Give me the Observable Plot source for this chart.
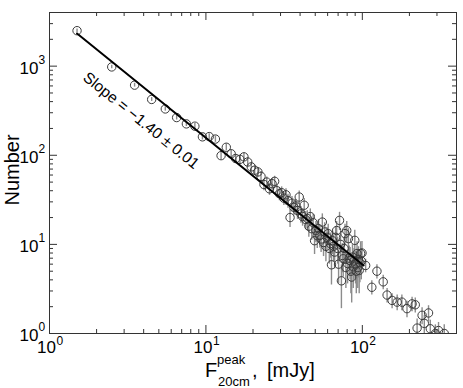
<!DOCTYPE html>
<html><head><meta charset="utf-8">
<script src="https://cdn.jsdelivr.net/npm/d3@7"></script>
<script src="https://cdn.jsdelivr.net/npm/@observablehq/plot@0.6"></script>
<style>html,body{margin:0;padding:0;background:#fff}#chart svg{display:block}</style>
</head><body><div id="chart"></div>
<script>
// Bin centres of the 20 cm peak flux (mJy)
const flux = [1.5,2.5,3.5,4.5,5.5,6.5,7.5,8.5,9.5,10.5,11.5,12.5,13.5,14.5,15.5,16.5,17.5,18.5,19.5,20.5,
  21.5,22.5,23.5,24.5,25.5,26.5,27.5,28.5,29.5,30.5,31.5,32.5,33.5,34.5,35.5,36.5,37.5,38.5,39.5,40.5,
  41.5,42.5,43.5,44.5,45.5,46.5,47.5,48.5,49.5,50.5,51.5,52.5,53.5,54.5,55.5,56.5,57.5,58.5,59.5,60.5,
  61.5,62.5,63.5,64.5,65.5,66.5,67.5,68.5,69.5,70.5,71.5,72.5,73.5,74.5,75.5,76.5,77.5,78.5,79.5,80.5,
  81.5,82.5,83.5,84.5,85.5,86.5,87.5,88.5,89.5,90.5,91.5,92.5,93.5,94.5,95.5,96.5,97.5,98.5,99.5,
  105,115,124,136,144,155,167,179,193,208,218,224,241,249,265,272,293,307,334];
// Number of sources per bin
const number = [2500,980,612,423,331,265,225,212,161,162,152,99,123,104,92,90,96,84,74,68,
  65,58,47,50,42,48,51,40,37,38,33,36,31,20,29,26,27,24,34,22,
  20.5,27.5,19,19.5,16,20.5,15,17.5,11,14.3,12.5,15,12.6,11.5,17.8,10.5,13.8,9.5,12,13.2,
  9,10.2,5.9,11,9.5,8.2,12,14.3,9,6,18.6,10,3.9,7.5,6.9,9,13.2,5.5,14.3,6.1,
  11.6,7,6.6,5,4.3,7.2,5.6,6.5,11.1,6,5,7.9,5.5,6.8,5.1,6.2,7.9,6.5,8,
  5.8,3.3,5.0,3.8,2.7,2.35,2.25,2.25,1.9,2.15,2.1,1.15,1.6,1.3,1.7,1.13,1.0,1.08,1.0];
// Uncertainty on each count
const numberErr = [120,45,30,21,18,16.3,15,14.6,12.7,12.7,12.3,9.9,11.1,10.2,9.6,9.5,9.8,9.2,8.6,8.2,
  8.1,7.6,6.9,7.1,6.5,6.9,7.1,6.3,6.1,6.2,5.7,6,5.6,4.5,5.4,5.1,5.2,4.9,5.8,4.7,
  4.5,5.2,4.4,4.4,4,4.5,3.9,4.2,3.3,3.8,3.5,3.9,3.5,3.4,4.2,3.2,3.7,3.1,3.5,3.6,
  3,3.2,2.4,3.3,3.1,2.9,3.5,3.8,3,2.4,4.3,3.2,2,2.7,2.6,3,3.6,2.3,3.8,2.5,
  3.4,2.6,2.6,2.2,2.1,2.7,2.4,2.5,3.3,2.4,2.2,2.8,2.3,2.6,2.3,2.5,2.8,2.5,2.8,
  1.0,0.6,0.9,0.7,0.5,0.45,0.45,0.45,0.4,0.4,0.4,0.3,0.35,0.3,0.35,0.28,0.25,0.25,0.25];
// Power-law fit end points
const fitFlux = [1.5, 102];
const fitNumber = [2330, 5.8];
const slopeText = "Slope = \u22121.40 \u00b1 0.01";
const slopeAt = {x: 3.85, y: 245};
// Ticks
const xMajor = [1, 10, 100];
const xMinor = [2,3,4,5,6,7,8,9,20,30,40,50,60,70,80,90,200,300];
const yMajor = [1, 10, 100, 1000];
const yMinor = [2,3,4,5,6,7,8,9,20,30,40,50,60,70,80,90,200,300,400,500,600,700,800,900,2000,3000];

const W = 463, H = 388, mL = 49, mR = 7, mT = 12, mB = 55;
const fH = H - mT - mB, fW = W - mL - mR;
const axisColor = "#333";
const FONT = "'Liberation Sans', Arial, Helvetica, sans-serif";

const points = flux.map((x, i) => ({x, y: number[i], lo: Math.max(number[i] - numberErr[i], 0.5), hi: number[i] + numberErr[i]}));
const fit = fitFlux.map((x, i) => ({x, y: fitNumber[i]}));

const tickMarks = (vals, len) => [
  Plot.ruleX(vals, {x: d => d, insetTop: fH - len, stroke: axisColor}),
  Plot.ruleX(vals, {x: d => d, insetBottom: fH - len, stroke: axisColor}),
  Plot.ruleY(vals, {y: d => d, insetRight: fW - len, stroke: axisColor}),
  Plot.ruleY(vals, {y: d => d, insetLeft: fW - len, stroke: axisColor})
];

const chart = Plot.plot({
  width: W, height: H,
  marginLeft: mL, marginRight: mR, marginTop: mT, marginBottom: mB,
  style: {fontFamily: FONT, background: "white", color: "black", overflow: "visible"},
  x: {type: "log", domain: [1, 400], axis: null},
  y: {type: "log", domain: [1, 4000], axis: null},
  marks: [
    Plot.ruleX(points, {x: "x", y1: "lo", y2: "hi", stroke: "#8c8c8c", strokeWidth: 1.4, clip: true}),
    Plot.dot(points, {x: "x", y: "y", r: 4.2, stroke: "#3a3a3a", strokeWidth: 1, fill: "none", clip: true}),
    Plot.line(fit, {x: "x", y: "y", stroke: "black", strokeWidth: 2}),
    Plot.text([slopeText], {x: slopeAt.x, y: slopeAt.y, text: d => d, rotate: 39, fontSize: 15.5, textAnchor: "middle", fill: "black"}),
    ...tickMarks(xMajor.filter(d => d > 1), 8).slice(0, 2),
    ...tickMarks(yMajor.filter(d => d > 1), 8).slice(2, 4),
    ...tickMarks(xMinor, 4).slice(0, 2),
    ...tickMarks(yMinor, 4).slice(2, 4),
    Plot.frame({stroke: axisColor, strokeWidth: 1}),
    // x tick labels
    Plot.text(xMajor, {x: d => d, frameAnchor: "bottom", text: () => "10", dx: -3, dy: 19, fontSize: 17, textAnchor: "middle"}),
    Plot.text(xMajor, {x: d => d, frameAnchor: "bottom", text: d => String(Math.round(Math.log10(d))), dx: 7, dy: 11, fontSize: 12, textAnchor: "start"}),
    // y tick labels
    Plot.text(yMajor, {y: d => d, frameAnchor: "left", text: () => "10", dx: -11, dy: 2, fontSize: 17, textAnchor: "end"}),
    Plot.text(yMajor, {y: d => d, frameAnchor: "left", text: d => String(Math.round(Math.log10(d))), dx: -11, dy: -6, fontSize: 12, textAnchor: "start"})
  ]
});

const svg = d3.select(chart);
// x-axis title: F^peak_20cm, [mJy]
const xt = svg.append("text").attr("font-family", FONT).attr("fill", "black").attr("text-anchor", "start");
xt.append("tspan").attr("x", 205).attr("y", 377).attr("font-size", 20).text("F");
xt.append("tspan").attr("x", 217).attr("y", 364).attr("font-size", 13).text("peak");
xt.append("tspan").attr("x", 218).attr("y", 386).attr("font-size", 13).text("20cm");
xt.append("tspan").attr("x", 252).attr("y", 377).attr("font-size", 20).text(",");
xt.append("tspan").attr("x", 267).attr("y", 377).attr("font-size", 20).text("[mJy]");
// y-axis title
svg.append("text").attr("font-family", FONT).attr("font-size", 20).attr("fill", "black")
  .attr("text-anchor", "middle").attr("transform", "translate(19,170) rotate(-90)").text("Number");

document.getElementById("chart").appendChild(chart);
</script>
</body></html>
